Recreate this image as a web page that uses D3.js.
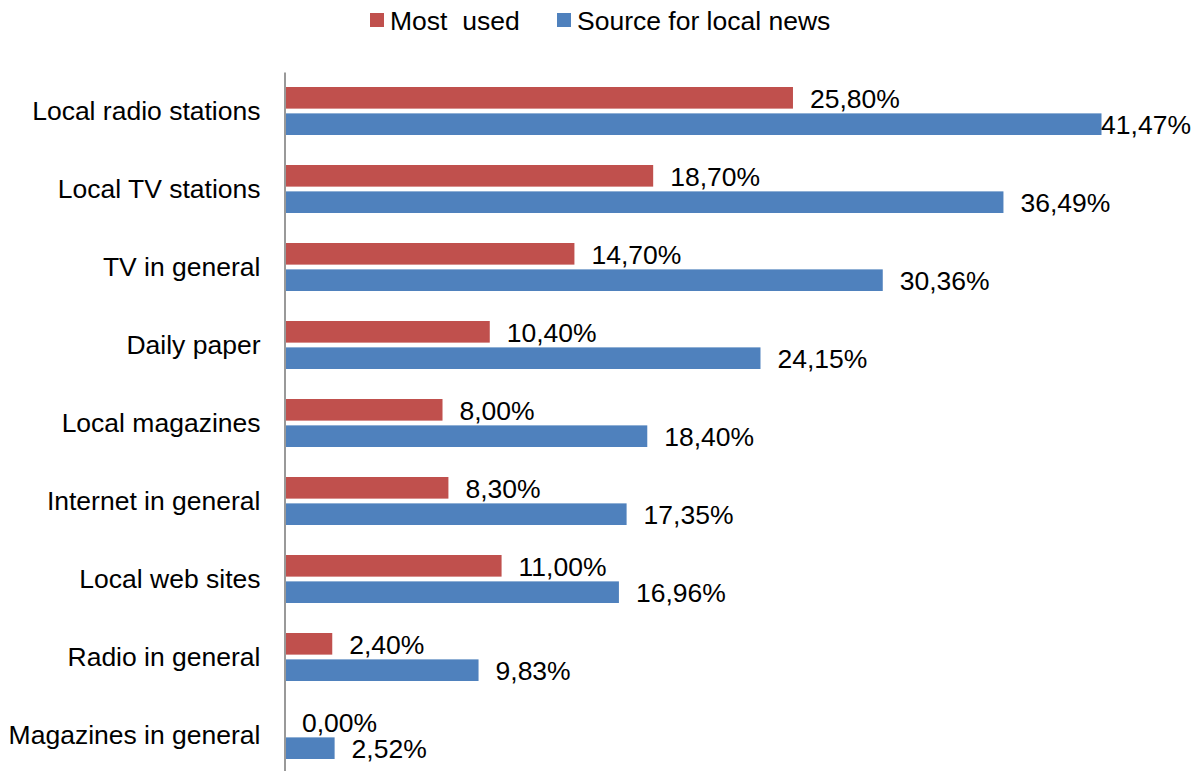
<!DOCTYPE html>
<html>
<head>
<meta charset="utf-8">
<script src="https://cdn.jsdelivr.net/npm/d3@7"></script>
<style>
  html, body { margin: 0; padding: 0; background: #fff; }
  svg { display: block; font-family: "Liberation Sans", Arial, sans-serif; }
</style>
</head>
<body>
<svg width="1201" height="771" viewBox="0 0 1201 771"></svg>
<script>
const categories = [
  'Local radio stations',
  'Local TV stations',
  'TV in general',
  'Daily paper',
  'Local magazines',
  'Internet in general',
  'Local web sites',
  'Radio in general',
  'Magazines in general'
]
const seriesNames = ['Most  used', 'Source for local news']
const mostUsed = [25.80, 18.70, 14.70, 10.40, 8.00, 8.30, 11.00, 2.40, 0.00]
const sourceLocal = [41.47, 36.49, 30.36, 24.15, 18.40, 17.35, 16.96, 9.83, 2.52]
const colors = ['#C0504D', '#4F81BD']

const svg = d3.select('svg')
const fontSize = 26.5
const chartRight = 1191

const locale = d3.formatLocale({ decimal: ',', thousands: '.', grouping: [3], currency: ['', ''] })
const fmt = (v) => locale.format('.2f')(v) + '%'

const rows = categories.map((c, i) => ({
  name: c,
  values: [
    { key: seriesNames[0], value: mostUsed[i], s: 0 },
    { key: seriesNames[1], value: sourceLocal[i], s: 1 }
  ]
}))

const xScale = d3.scaleLinear().domain([0, 45]).range([285, 1171])
const yScale = d3.scaleBand().domain(categories).range([72, 774])
const y1 = d3.scaleBand().domain(seriesNames).range([15, 63]).paddingInner(0.18)

// bars
const groups = svg.append('g').selectAll('g.row')
  .data(rows)
  .join('g')
  .attr('class', 'row')
  .attr('transform', (d) => `translate(0,${yScale(d.name)})`)

groups.selectAll('rect')
  .data((d) => d.values)
  .join('rect')
  .attr('x', xScale(0))
  .attr('y', (d) => y1(d.key))
  .attr('width', (d) => xScale(d.value) - xScale(0))
  .attr('height', y1.bandwidth())
  .style('fill', (d) => colors[d.s])

groups.selectAll('text.lbl')
  .data((d) => d.values)
  .join('text')
  .attr('class', 'lbl')
  .attr('y', (d) => y1(d.key) + y1.bandwidth() / 2 + 1)
  .attr('dominant-baseline', 'central')
  .attr('font-size', fontSize)
  .style('fill', '#000')
  .text((d) => fmt(d.value))
  .attr('x', function (d) {
    const len = this.getComputedTextLength()
    return Math.min(xScale(d.value) + 17, chartRight - len)
  })

// category axis
const yAxis = d3.axisLeft(yScale).tickSize(0).tickPadding(24)
const axisG = svg.append('g')
  .attr('transform', `translate(${xScale(0) - 0.5},0)`)
  .call(yAxis)
axisG.select('.domain').attr('stroke', '#999').attr('stroke-width', 2)
axisG.selectAll('text')
  .attr('font-size', fontSize)
  .attr('font-family', '"Liberation Sans", Arial, sans-serif')
  .attr('dy', '0.33em')
  .style('fill', '#000')

// legend
const legendX = [370, 557]
const legend = svg.append('g').selectAll('g')
  .data(seriesNames)
  .join('g')
  .attr('transform', (d, i) => `translate(${legendX[i]},13)`)
legend.append('rect')
  .attr('width', 14)
  .attr('height', 14)
  .style('fill', (d, i) => colors[i])
legend.append('text')
  .attr('x', 20)
  .attr('y', 8)
  .attr('dominant-baseline', 'central')
  .attr('font-size', fontSize)
  .attr('xml:space', 'preserve')
  .style('white-space', 'pre')
  .style('fill', '#000')
  .text((d) => d)
</script>
</body>
</html>
